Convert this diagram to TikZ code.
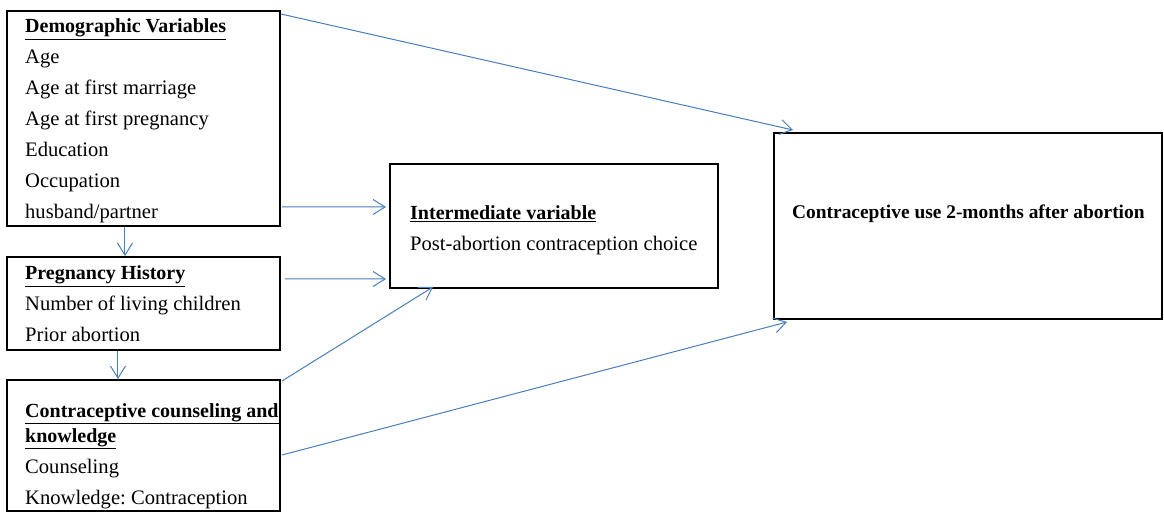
\documentclass[tikz,border=0pt]{standalone}
\usepackage{fontspec}
\setmainfont{Liberation Serif}
\frenchspacing
\usetikzlibrary{arrows.meta,calc}
\definecolor{arrblue}{RGB}{74,126,187}
\tikzset{
  box/.style={draw=black, line width=1.8bp, rectangle, inner sep=0pt, outer sep=0pt},
  lbl/.style={anchor=base west, inner sep=0pt, font=\fontsize{20.6bp}{24bp}\selectfont},
  hdr/.style={anchor=base west, inner sep=0pt, font=\fontsize{20bp}{24bp}\selectfont\bfseries},
  arr/.style={draw=arrblue, line width=1bp, -{Straight Barb[length=12bp,width=15bp]}}
}
\begin{document}
\begin{tikzpicture}[x=1bp,y=-1bp]
\useasboundingbox (0,0) rectangle (1164,512);
% boxes
\node[box, minimum width=273bp, minimum height=215bp] (demo) at (143.5,118.5) {};
\node[box, minimum width=273bp, minimum height=93bp] (preg) at (143.5,303.5) {};
\node[box, minimum width=273bp, minimum height=131bp] (couns) at (143.5,445.5) {};
\node[box, minimum width=328bp, minimum height=124bp] (inter) at (554,226) {};
\node[box, minimum width=388bp, minimum height=186bp] (outc) at (968,226) {};
% demographic text
\node[hdr] (d0) at (25,33) {\underline{Demographic Variables}};
\node[lbl] (d1) at (25,64) {Age};
\node[lbl] (d2) at (25,95) {Age at first marriage};
\node[lbl] (d3) at (25,126) {Age at first pregnancy};
\node[lbl] (d4) at (25,157) {Education};
\node[lbl] (d5) at (25,188) {Occupation};
\node[lbl] (d6) at (25,219) {husband/partner};
% pregnancy text
\node[hdr] (p0) at (25,280) {\underline{Pregnancy History}};
\node[lbl] (p1) at (25,311) {Number of living children};
\node[lbl] (p2) at (25,342) {Prior abortion};
% counseling text
\node[hdr] (c0) at (25,417) {\underline{Contraceptive counseling and}};
\node[hdr] (c1) at (25,442) {\underline{knowledge}};
\node[lbl] (c2) at (25,473) {Counseling};
\node[lbl] (c3) at (25,504) {Knowledge: Contraception};
% intermediate text
\node[hdr] (i0) at (410,220) {\underline{Intermediate variable}};
\node[lbl] (i1) at (410,251) {Post-abortion contraception choice};
% outcome text
\node[hdr, font=\fontsize{19.4bp}{24bp}\selectfont\bfseries] (o0) at (792,219) {Contraceptive use 2-months after abortion};
% connectors
\draw[arr] ($(demo.north east)+(1,3)$) -- ($(outc.north west)+(19,-3)$);
\draw[arr] ($(demo.south east)+(2,-19)$) -- ($(inter.west)+(-4,-19)$);
\draw[arr] ($(demo.south west)+(118,1)$) -- ($(preg.north west)+(118,-1)$);
\draw[arr] ($(preg.north east)+(5,22)$) -- ($(inter.south west)+(-4,-9)$);
\draw[arr] ($(preg.south west)+(111,1)$) -- ($(couns.north west)+(111,-1)$);
\draw[arr] ($(couns.north east)+(2,1)$) -- ($(inter.south west)+(43,-1)$);
\draw[arr] ($(couns.north east)+(2,75)$) -- ($(outc.south west)+(13,3)$);
\end{tikzpicture}
\end{document}
